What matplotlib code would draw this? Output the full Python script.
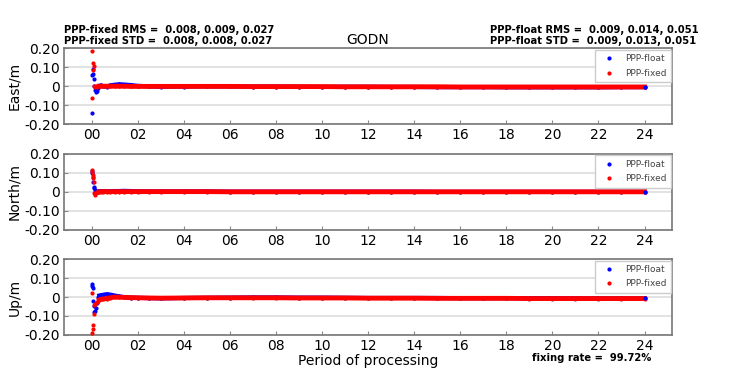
import matplotlib
matplotlib.use('Agg')
import matplotlib.pyplot as plt

# epoch times (hours of processing)
hours = [0.00, 0.03, 0.05, 0.07, 0.09, 0.12, 0.15, 0.18, 0.22, 0.27,
         0.33, 0.40, 0.50, 0.65, 0.80, 1.00, 1.20, 1.40, 1.70, 2.00,
         2.50, 3.00, 4, 5, 6, 7, 8, 9, 10, 11, 12, 13, 14, 15, 16, 17,
         18, 19, 20, 21, 22, 23, 24]

east_float = [-0.140, 0.060, 0.090, 0.065, 0.040, 0.000, -0.020, -0.030, -0.025, -0.010,
              0.002, 0.004, 0.000, -0.002, 0.004, 0.008, 0.010, 0.009, 0.006, 0.002,
              -0.001, -0.003, -0.002, -0.001, -0.001, -0.002, -0.002, -0.003, -0.004, -0.003,
              -0.003, -0.004, -0.004, -0.005, -0.005, -0.005, -0.006, -0.006, -0.006, -0.006,
              -0.006, -0.005, -0.005]
east_fixed = [0.188, -0.060, 0.085, 0.125, 0.105, 0.000, -0.005, 0.000, -0.002, 0.000,
              0.000, 0.000, 0.000, 0.000, 0.000, 0.000, 0.000, 0.000, -0.001, -0.001,
              -0.001, -0.001, -0.001, -0.001, -0.001, -0.002, -0.002, -0.002, -0.002, -0.003,
              -0.003, -0.003, -0.003, -0.003, -0.004, -0.004, -0.004, -0.004, -0.004, -0.004,
              -0.004, -0.004, -0.004]
north_float = [0.110, 0.100, 0.080, 0.050, 0.025, 0.018, 0.008, 0.003, 0.001, 0.002,
               0.002, 0.003, 0.003, 0.003, 0.003, 0.004, 0.004, 0.005, 0.004, 0.003,
               0.002, 0.002, 0.002, 0.002, 0.001, 0.001, 0.001, 0.001, 0.001, 0.001,
               0.001, 0.001, 0.001, 0.000, 0.000, 0.000, 0.000, 0.000, 0.000, 0.000,
               0.000, 0.000, 0.000]
north_fixed = [0.105, 0.115, 0.090, 0.075, 0.050, -0.005, -0.018, -0.005, 0.000, 0.000,
               0.000, 0.001, 0.001, 0.001, 0.001, 0.001, 0.001, 0.001, 0.001, 0.001,
               0.001, 0.001, 0.001, 0.001, 0.000, 0.000, 0.000, 0.000, 0.000, 0.000,
               0.000, 0.000, 0.000, 0.000, 0.000, 0.000, 0.000, 0.000, 0.000, 0.000,
               0.000, 0.000, 0.000]
up_float = [0.070, 0.060, 0.050, -0.020, -0.050, -0.080, -0.075, -0.060, -0.030, 0.000,
            0.008, 0.010, 0.012, 0.015, 0.013, 0.008, 0.003, 0.000, -0.003, -0.004,
            -0.006, -0.007, -0.005, -0.004, -0.003, -0.002, -0.002, -0.003, -0.003, -0.004,
            -0.005, -0.005, -0.005, -0.005, -0.006, -0.006, -0.006, -0.006, -0.006, -0.007,
            -0.007, -0.007, -0.007]
up_fixed = [0.020, -0.190, -0.170, -0.150, -0.090, -0.040, -0.035, -0.030, -0.025, -0.020,
            -0.015, -0.012, -0.010, -0.008, -0.004, 0.000, -0.001, -0.002, -0.003, -0.004,
            -0.005, -0.006, -0.005, -0.004, -0.004, -0.004, -0.004, -0.005, -0.005, -0.005,
            -0.006, -0.006, -0.006, -0.007, -0.007, -0.007, -0.007, -0.008, -0.008, -0.008,
            -0.008, -0.008, -0.008]

panels = [('East/m', east_float, east_fixed),
          ('North/m', north_float, north_fixed),
          ('Up/m', up_float, up_fixed)]

xticks = list(range(0, 25, 2))
xticklabels = ['%02d' % h for h in xticks]
yticks = [0.2, 0.1, 0, -0.1, -0.2]
yticklabels = ['0.20', '0.10', '0', '-0.10', '-0.20']

fixed_rms = '0.008, 0.009, 0.027'
fixed_std = '0.008, 0.008, 0.027'
float_rms = '0.009, 0.014, 0.051'
float_std = '0.009, 0.013, 0.051'
fix_rate = 99.72

fig = plt.figure(figsize=(7.48, 3.84), dpi=100)
left, width = 0.0856, 0.813
bottoms = [0.677, 0.402, 0.128]
height = 0.197

settle = 10  # after this index the solution is connected by a line

for (ylab, flt, fxd), b in zip(panels, bottoms):
    ax = fig.add_axes([left, b, width, height])
    ax.plot(hours[settle:], flt[settle:], color='blue', lw=3, zorder=2)
    ax.plot(hours, flt, '.', color='blue', ms=4, label='PPP-float', zorder=2)
    ax.plot(hours[settle:], fxd[settle:], color='red', lw=3.5, zorder=3)
    ax.plot(hours, fxd, '.', color='red', ms=4, label='PPP-fixed', zorder=3)
    # last float epoch sits on top at the end of the day
    ax.plot(hours[-1:], flt[-1:], '.', color='blue', ms=4, zorder=4)
    ax.set_xlim(-1.2, 25.2)
    ax.set_ylim(-0.2, 0.2)
    ax.set_yticks(yticks)
    ax.set_yticklabels(yticklabels, fontsize=10)
    ax.set_xticks(xticks)
    ax.set_xticklabels(xticklabels, fontsize=10)
    ax.tick_params(direction='in', length=3, color='#888888', pad=3)
    ax.yaxis.grid(True, color='#dddddd', lw=1.2)
    ax.set_axisbelow(True)
    for s in ax.spines.values():
        s.set_color('#777777')
        s.set_linewidth(1.2)
    ax.set_ylabel(ylab, fontsize=10, labelpad=2)
    leg = ax.legend(loc='upper right', fontsize=6.5, handletextpad=0.8,
                    borderpad=0.5, labelspacing=0.6, fancybox=False, framealpha=1,
                    edgecolor='#cccccc', borderaxespad=0.15)
    for txt in leg.get_texts():
        txt.set_color('#444444')

ax.set_xlabel('Period of processing', fontsize=10, labelpad=1)

fig.text(0.0856, 0.908, 'PPP-fixed RMS =  ' + fixed_rms, fontsize=7.2,
         fontweight='bold', va='bottom')
fig.text(0.0856, 0.879, 'PPP-fixed STD =  ' + fixed_std, fontsize=7.2,
         fontweight='bold', va='bottom')
fig.text(0.655, 0.908, 'PPP-float RMS =  ' + float_rms, fontsize=7.2,
         fontweight='bold', va='bottom')
fig.text(0.655, 0.879, 'PPP-float STD =  ' + float_std, fontsize=7.2,
         fontweight='bold', va='bottom')
fig.text(0.492, 0.877, 'GODN', fontsize=10, ha='center', va='bottom')
fig.text(0.711, 0.055, 'fixing rate =  %.2f%%' % fix_rate, fontsize=7.2,
         fontweight='bold', va='bottom')

fig.savefig('out.png', dpi=100)
